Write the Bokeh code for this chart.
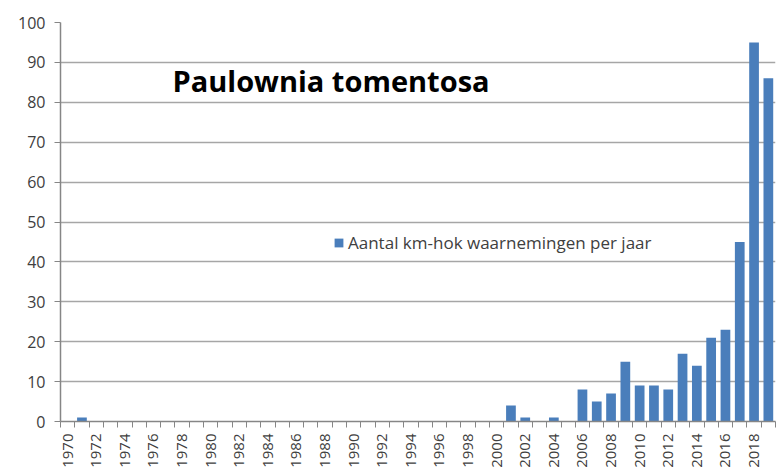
import math
from bokeh.plotting import figure
from bokeh.models import FixedTicker, Label, Legend, LegendItem, ColumnDataSource, Range1d
from bokeh.embed import file_html
from bokeh.resources import INLINE

years = list(range(1970, 2020))
counts_by_year = {1971: 1, 2001: 4, 2002: 1, 2004: 1, 2006: 8, 2007: 5, 2008: 7,
                  2009: 15, 2010: 9, 2011: 9, 2012: 8, 2013: 17, 2014: 14,
                  2015: 21, 2016: 23, 2017: 45, 2018: 95, 2019: 86}
counts = [counts_by_year.get(y, 0) for y in years]
title_text = "Paulownia tomentosa"
series_name = "Aantal km-hok waarnemingen per jaar"
y_ticks = list(range(0, 101, 10))

BAR = "#4A7EBB"
GRID = "#A6A6A6"
AX = "#868686"
FONT = "Open Sans"

p = figure(width=782, height=472, output_backend="svg", toolbar_location=None,
           x_range=Range1d(years[0] - 0.5, years[-1] + 0.5), y_range=Range1d(0, 100),
           min_border_left=60, min_border_right=7, min_border_top=22, min_border_bottom=51)
p.outline_line_color = None
p.background_fill_color = "white"

src = ColumnDataSource(dict(x=years, top=counts))
r = p.vbar(x="x", top="top", width=0.68, source=src, fill_color=BAR, line_color=None)

# x axis
xa = p.xaxis[0]
xa.ticker = FixedTicker(ticks=[y for y in years if y % 2 == 0],
                        minor_ticks=[y - 0.5 for y in years] + [years[-1] + 0.5])
xa.major_tick_out = 0
xa.major_tick_in = 0
xa.minor_tick_out = 6
xa.minor_tick_in = 0
xa.minor_tick_line_color = AX
xa.axis_line_color = AX
xa.axis_line_width = 1.5
xa.major_label_orientation = math.pi / 2
xa.major_label_text_font = FONT
xa.major_label_text_font_size = "15px"
xa.major_label_text_color = "#404040"
xa.major_label_standoff = 6

# y axis
ya = p.yaxis[0]
ya.ticker = FixedTicker(ticks=y_ticks)
ya.minor_tick_line_color = None
ya.major_tick_out = 6
ya.major_tick_in = 0
ya.major_tick_line_color = AX
ya.axis_line_color = AX
ya.axis_line_width = 1.5
ya.major_label_text_font = FONT
ya.major_label_text_font_size = "16px"
ya.major_label_text_color = "#404040"
ya.major_label_standoff = 9

p.xgrid.grid_line_color = None
p.ygrid.ticker = FixedTicker(ticks=y_ticks)
p.ygrid.grid_line_color = GRID
p.ygrid.grid_line_width = 1.5

p.add_layout(Label(x=112, y=341, x_units="screen", y_units="screen", text=title_text,
                   text_font=FONT, text_font_style="bold", text_font_size="29px",
                   text_baseline="middle", text_color="black"))

legend = Legend(items=[LegendItem(label=series_name, renderers=[r])],
                location=(273, 167), padding=0, margin=0, spacing=0,
                glyph_width=11, glyph_height=11, label_standoff=4,
                label_text_font=FONT, label_text_font_size="17px",
                label_text_color="#404040", border_line_color=None,
                background_fill_alpha=0)
p.add_layout(legend)

open("out.html", "w").write(file_html(p, INLINE))
